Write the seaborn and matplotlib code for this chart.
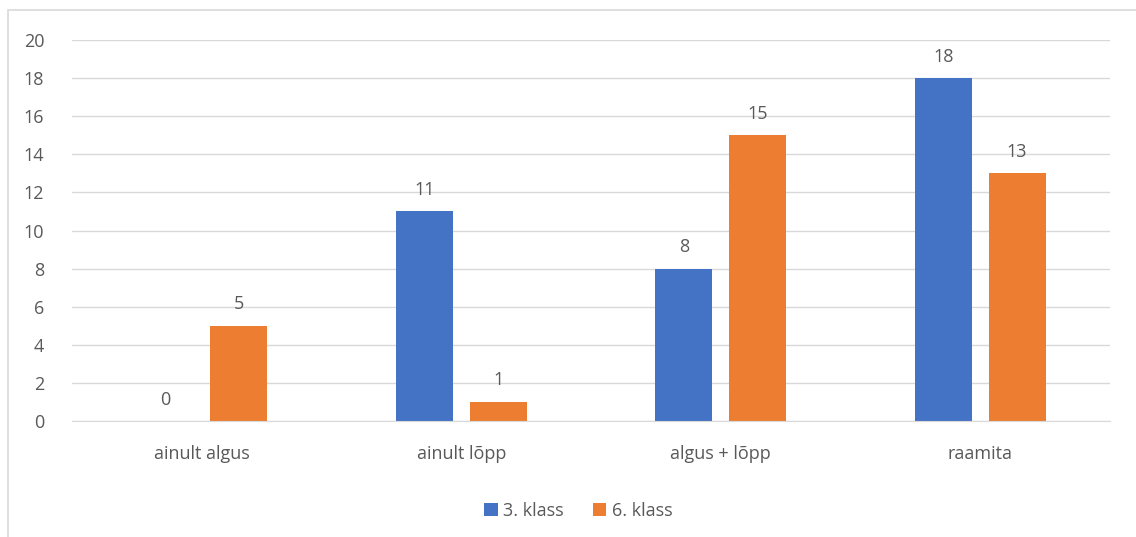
import matplotlib
matplotlib.use("Agg")
import matplotlib.pyplot as plt
import pandas as pd
import seaborn as sns
from matplotlib.patches import Rectangle

# chart data
categories = ["ainult algus", "ainult lõpp", "algus + lõpp", "raamita"]
klass3 = [0, 11, 8, 18]
klass6 = [5, 1, 15, 13]
series_names = ["3. klass", "6. klass"]

df = pd.DataFrame({
    "kategooria": categories * 2,
    "arv": klass3 + klass6,
    "klass": [series_names[0]] * 4 + [series_names[1]] * 4,
})

sns.set_style("white")
plt.rcParams["font.family"] = ["Open Sans", "DejaVu Sans"]
text_col = "#595959"

fig = plt.figure(figsize=(11.36, 5.37), dpi=100)
ax = fig.add_axes([0.0634, 0.216, 0.9136, 0.7095])

sns.barplot(data=df, x="kategooria", y="arv", hue="klass",
            palette=["#4472C4", "#ED7D31"], width=0.57, gap=0.23,
            saturation=1, linewidth=0, ax=ax, legend=True)

ax.set_ylim(0, 20)
ax.set_xlim(-0.5, 3.5)
ax.set_yticks(range(0, 21, 2))
ax.yaxis.grid(True, color="#D9D9D9", linewidth=1)
ax.set_axisbelow(True)
for s in ["top", "right", "left"]:
    ax.spines[s].set_visible(False)
ax.spines["bottom"].set_color("#D9D9D9")
ax.tick_params(axis="both", length=0, labelsize=13, labelcolor=text_col)
ax.tick_params(axis="y", pad=20)
ax.tick_params(axis="x", pad=17)
ax.set_xlabel("")
ax.set_ylabel("")

# value labels
for cont in ax.containers:
    ax.bar_label(cont, padding=9, fontsize=13, color=text_col)

leg = ax.legend(loc="upper center", bbox_to_anchor=(0.488, -0.17), ncol=2,
                frameon=False, fontsize=13, handlelength=0.75, handleheight=0.75,
                handletextpad=0.3, columnspacing=1.6)
for t in leg.get_texts():
    t.set_color(text_col)

# outer chart border
fig.patches.append(Rectangle((8 / 1136, -0.01), 1.02, 1 - 10 / 537 + 0.01,
                             transform=fig.transFigure, fill=False,
                             edgecolor="#D9D9D9", linewidth=1.2))

fig.savefig("out.png", dpi=100)
